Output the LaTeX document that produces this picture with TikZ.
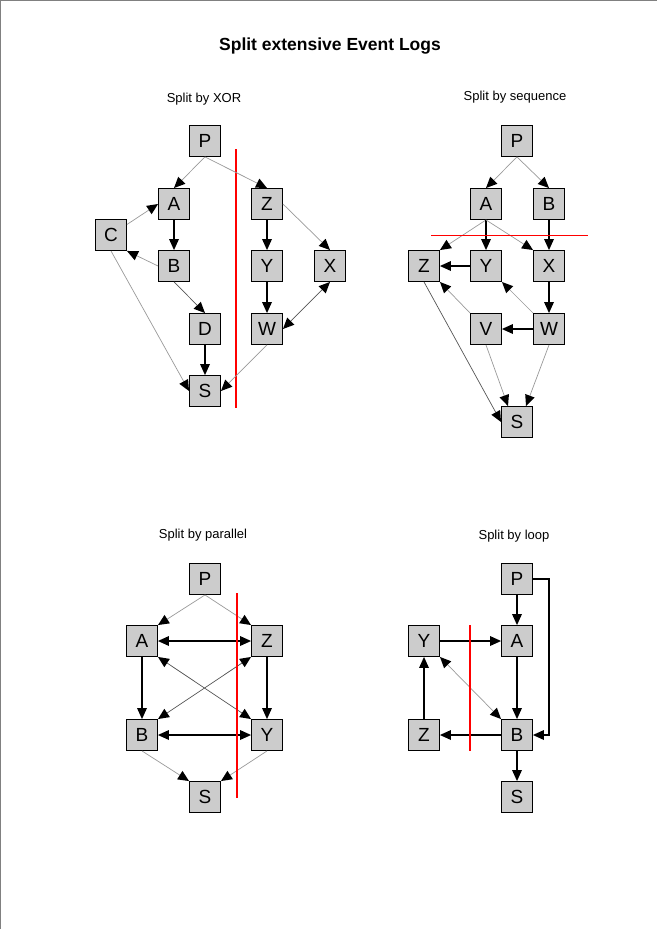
\documentclass[tikz,border=0pt]{standalone}
\usepackage{fontspec}
\setmainfont{Liberation Sans}
\usetikzlibrary{arrows.meta}
\definecolor{boxfill}{HTML}{CCCCCC}
\definecolor{lightedge}{HTML}{999999}
\definecolor{darkedge}{HTML}{555555}
\definecolor{pageedge}{HTML}{808080}
\tikzset{
  task/.style={draw=black, line width=0.9pt, fill=boxfill, minimum size=31pt,
    inner sep=0pt, font=\fontsize{19}{19}\selectfont},
  head/.tip={Triangle[length=11pt,width=10pt,color=black,line width=0pt]},
  tip/.style={-head},
  bitip/.style={head-head},
  strong/.style={draw=black, line width=1.1pt},
  faint/.style={draw=lightedge, line width=0.7pt},
  medium/.style={draw=darkedge, line width=0.7pt},
  cut/.style={draw=red, line width=1.2pt},
  heading/.style={font=\fontsize{13}{13}\selectfont},
}
\begin{document}
\begin{tikzpicture}[x=1pt,y=-1pt]
\useasboundingbox (0,0) rectangle (657,929);
% page edges
\draw[pageedge, line width=1.5pt] (0.5,929) -- (0.5,0.5) -- (657,0.5);

\node[font=\bfseries\fontsize{17.5}{17.5}\selectfont] (title) at (330,46) {Split extensive Event Logs};

% ---------- Split by XOR ----------
\node[heading] (h1) at (204,99) {Split by XOR};
\node[task] (p1) at (205,141) {P};
\node[task] (a1) at (174,204) {A};
\node[task] (z1) at (267,204) {Z};
\node[task] (c1) at (111,235) {C};
\node[task] (b1) at (174,266) {B};
\node[task] (y1) at (267,266) {Y};
\node[task] (x1) at (330,266) {X};
\node[task] (d1) at (205,329) {D};
\node[task] (w1) at (267,329) {W};
\node[task] (s1) at (205,391) {S};
\coordinate (r1a) at (236,149);
\coordinate (r1b) at (236,408);
\draw[cut] (r1a) -- (r1b);
\draw[faint, tip] (p1.south) -- (a1.north);
\draw[faint, tip] (p1.south) -- (z1.north);
\draw[faint, tip] (c1) -- (a1.west);
\draw[strong, tip] (a1) -- (b1);
\draw[faint, tip] (b1.west) -- (c1.south east);
\draw[medium, tip] (b1.south) -- (d1.north);
\draw[strong, tip] (d1) -- (s1);
\draw[faint, tip] (c1.south) -- (s1.west);
\draw[strong, tip] (z1) -- (y1);
\draw[faint, tip] (z1.east) -- (x1.north);
\draw[strong, tip] (y1) -- (w1);
\draw[medium, bitip] (x1.south) -- (w1.east);
\draw[faint, tip] (w1.south) -- (s1.east);

% ---------- Split by sequence ----------
\node[heading] (h2) at (515,97) {Split by sequence};
\node[task] (p2) at (517,141) {P};
\node[task] (a2) at (486,204) {A};
\node[task] (b2) at (549,204) {B};
\node[task] (z2) at (424,266) {Z};
\node[task] (y2) at (486,266) {Y};
\node[task] (x2) at (549,266) {X};
\node[task] (v2) at (486,329) {V};
\node[task] (w2) at (549,329) {W};
\node[task] (s2) at (517,422) {S};
\coordinate (r2a) at (431,235);
\coordinate (r2b) at (588,235);
\draw[faint, tip] (p2.south) -- (a2.north);
\draw[faint, tip] (p2.south) -- (b2.north);
\draw[faint, tip] (a2.south) -- (z2.north east);
\draw[strong, tip] (a2) -- (y2);
\draw[faint, tip] (a2.south) -- (x2.north west);
\draw[strong, tip] (b2) -- (x2);
\draw[strong, tip] (y2) -- (z2);
\draw[strong, tip] (x2) -- (w2);
\draw[faint, tip] (w2.north west) -- (y2.south east);
\draw[strong, tip] (w2) -- (v2);
\draw[faint, tip] (v2.north west) -- (z2.south east);
\draw[faint, tip] (v2.south) -- ([xshift=-9pt]s2.north);
\draw[faint, tip] (w2.south) -- ([xshift=9pt]s2.north);
\draw[medium, tip] (z2.south) -- (s2.west);
\draw[cut, line width=0.9pt] (r2a) -- (r2b);

% ---------- Split by parallel ----------
\node[heading] (h3) at (203,535) {Split by parallel};
\node[task] (p3) at (205,579) {P};
\node[task] (a3) at (142,641) {A};
\node[task] (z3) at (267,641) {Z};
\node[task] (b3) at (142,735) {B};
\node[task] (y3) at (267,735) {Y};
\node[task] (s3) at (205,797) {S};
\coordinate (r3a) at (237,593);
\coordinate (r3b) at (237,798);
\draw[faint, tip] (p3.south) -- (a3.north east);
\draw[faint, tip] (p3.south) -- (z3.north west);
\draw[strong, bitip] (a3) -- (z3);
\draw[strong, tip] (a3) -- (b3);
\draw[strong, tip] (z3) -- (y3);
\draw[medium, bitip] (a3.south east) -- (y3.north west);
\draw[medium, bitip] (z3.south west) -- (b3.north east);
\draw[strong, bitip] (b3) -- (y3);
\draw[faint, tip] (b3.south) -- (s3.north west);
\draw[faint, tip] (y3.south) -- (s3.north east);
\draw[cut] (r3a) -- (r3b);

% ---------- Split by loop ----------
\node[heading] (h4) at (514,536) {Split by loop};
\node[task] (p4) at (517,579) {P};
\node[task] (a4) at (517,641) {A};
\node[task] (y4) at (424,641) {Y};
\node[task] (z4) at (424,735) {Z};
\node[task] (b4) at (517,735) {B};
\node[task] (s4) at (517,797) {S};
\coordinate (r4a) at (470,625);
\coordinate (r4b) at (470,751);
\coordinate (bend) at (549,579);
\draw[strong, tip] (p4) -- (a4);
\draw[strong, tip] (p4.east) -- (bend) |- (b4.east);
\draw[strong, tip] (y4) -- (a4);
\draw[strong, tip] (a4) -- (b4);
\draw[strong, tip] (b4) -- (z4);
\draw[strong, tip] (z4) -- (y4);
\draw[faint, bitip] (y4.south east) -- (b4.north west);
\draw[strong, tip] (b4) -- (s4);
\draw[cut] (r4a) -- (r4b);
\end{tikzpicture}
\end{document}
